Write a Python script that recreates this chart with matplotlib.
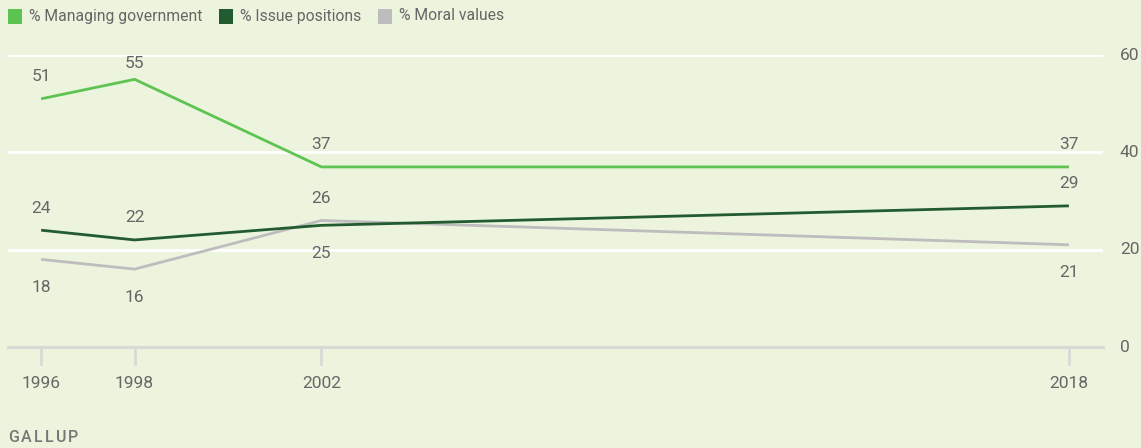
import matplotlib
matplotlib.use("Agg")
import matplotlib.pyplot as plt
from matplotlib.patches import Rectangle

years = [1996, 1998, 2002, 2018]
series_names = ["% Managing government", "% Issue positions", "% Moral values"]
managing = [51, 55, 37, 37]
issues = [24, 22, 25, 29]
moral = [18, 16, 26, 21]
y_ticks = [0, 20, 40, 60]
source = "GALLUP"

colors = ["#5DC451", "#235B30", "#BDBDBD"]
# label placement: +1 above, -1 below
placements = [
    [1, 1, 1, 1],
    [1, 1, -1, 1],
    [-1, -1, 1, -1],
]

W, H = 1141, 448
BG = "#EDF4DE"
TXT = "#666666"
plt.rcParams["font.family"] = ["Roboto", "DejaVu Sans"]

fig = plt.figure(figsize=(W / 100, H / 100), dpi=100, facecolor=BG)
ax = fig.add_axes([8 / W, 1 - 347 / H, (1103 - 8) / W, (347 - 55) / H])
ax.set_facecolor(BG)
ax.set_xlim(1995.29, 2018.73)
ax.set_ylim(0, 60)
for s in ax.spines.values():
    s.set_visible(False)
ax.set_xticks([])
ax.set_yticks([])

# gridlines
for t in y_ticks[1:]:
    ax.axhline(t, color="white", lw=2.0, zorder=1)
ax.axhline(0, color="#D9DAD6", lw=2.3, zorder=1, clip_on=False)

for yr in years:
    ax.plot([yr, yr], [0, -3.4], color="#D9DAD6", lw=2.0, clip_on=False, zorder=1)
    ax.annotate(str(yr), xy=(yr, 0), xytext=(0, -36), textcoords="offset pixels",
                ha="center", va="center", fontsize=12.5, color=TXT)

# right axis labels
for t in y_ticks:
    ax.annotate(str(t), xy=(1, t), xycoords=("axes fraction", "data"),
                xytext=(17, 0), textcoords="offset pixels",
                ha="left", va="center", fontsize=12.5, color=TXT)

data = [managing, issues, moral]
order = [2, 1, 0]
for i in order:
    ax.plot(years, data[i], color=colors[i], lw=2.0, zorder=3 + (2 - i),
            solid_capstyle="butt", clip_on=False)

for i, vals in enumerate(data):
    for j, (yr, v) in enumerate(zip(years, vals)):
        p = placements[i][j]
        dy = 22 if p > 0 else -28
        if i == 0 and j == 1:
            dy = 16
        ax.annotate(str(v), xy=(yr, v), xytext=(0, dy), textcoords="offset pixels",
                    ha="center", va="center", fontsize=12.5, color=TXT, zorder=6)

# legend
leg_x = [8, 219, 378]
for name, c, x in zip(series_names, colors, leg_x):
    fig.patches.append(Rectangle((x / W, 1 - 24 / H), 14 / W, 15 / H,
                                 transform=fig.transFigure, facecolor=c,
                                 edgecolor="none"))
    fig.text((x + 21) / W, 1 - 16 / H, name, ha="left", va="center",
             fontsize=11.3, color=TXT)

# source with letter spacing
renderer = fig.canvas.get_renderer()
xpix = 8
for ch in source:
    t = fig.text(xpix / W, 1 - 437 / H, ch, ha="left", va="center", fontsize=11.5,
                 color="#777777", fontweight="medium")
    bb = t.get_window_extent(renderer=renderer)
    xpix += bb.width + 2.2

fig.savefig("out.png", dpi=100, facecolor=BG)
